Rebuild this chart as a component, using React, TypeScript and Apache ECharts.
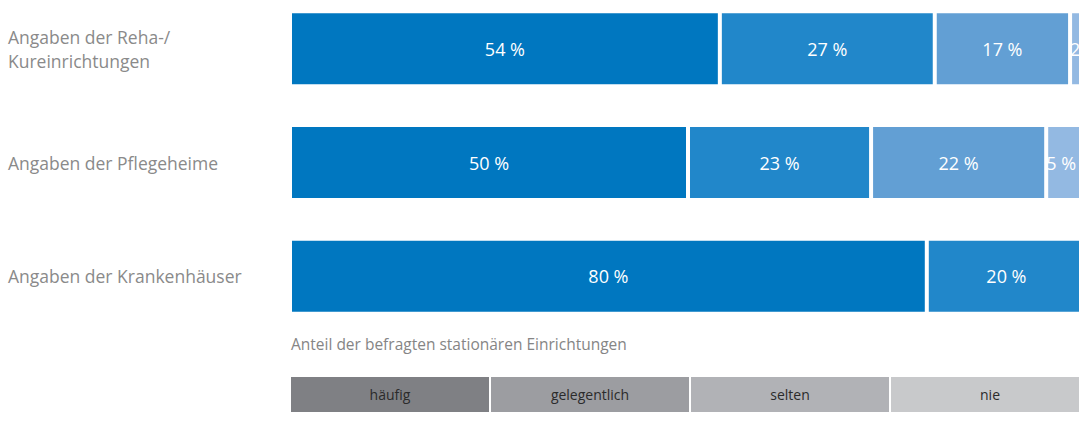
import React, { useEffect, useRef } from "react";
import * as echarts from "echarts";

const categories = [
  "Angaben der Reha-/\nKureinrichtungen",
  "Angaben der Pflegeheime",
  "Angaben der Krankenhäuser",
];
const seriesNames = ["häufig", "gelegentlich", "selten", "nie"];
const haeufig = [54, 50, 80];
const gelegentlich = [27, 23, 20];
const selten = [17, 22, 0];
const nie = [2, 5, 0];
const barColors = ["#0077c0", "#2187ca", "#629fd4", "#93b9e2"];
const legendColors = ["#7f8084", "#9c9da1", "#b1b2b6", "#c8c9cb"];
const axisTitle = "Anteil der befragten stationären Einrichtungen";

const FONT = "'Open Sans', 'Noto Sans', sans-serif";
const OFF = 10; // container is shifted up by this amount

export default function App() {
  const ref = useRef<HTMLDivElement>(null);
  useEffect(() => {
    if (!ref.current) return;
    const chart = echarts.init(ref.current, undefined, { renderer: "svg" });
    const data = [haeufig, gelegentlich, selten, nie];
    const series = data.map((vals, i) => ({
      name: seriesNames[i],
      type: "bar",
      stack: "total",
      barWidth: 75,
      data: vals,
      itemStyle: { color: barColors[i], borderColor: "#ffffff", borderWidth: 2 },
      label: {
        show: true,
        position: i === 3 ? "insideLeft" : "inside",
        distance: 0,
        color: "#ffffff",
        fontSize: 18,
        fontFamily: FONT,
        formatter: (p: any) => (p.value > 0 ? `${p.value} %` : ""),
      },
    }));
    const legendW = 198;
    const graphics: any[] = [];
    seriesNames.forEach((n, i) => {
      const x = 291 + i * 200;
      graphics.push({
        type: "rect",
        shape: { x, y: 377 + OFF, width: legendW, height: 35 },
        style: { fill: legendColors[i] },
      });
      graphics.push({
        type: "text",
        x: x + legendW / 2,
        y: 394.5 + OFF,
        style: {
          text: n,
          fill: "#2b2b2b",
          fontSize: 14,
          fontFamily: FONT,
          align: "center",
          verticalAlign: "middle",
        },
      });
    });
    graphics.push({
      type: "text",
      x: 291,
      y: 344 + OFF,
      style: {
        text: axisTitle,
        fill: "#858585",
        fontSize: 15.5,
        fontFamily: FONT,
        align: "left",
        verticalAlign: "middle",
      },
    });
    chart.setOption({
      animation: false,
      grid: { left: 290, top: OFF - 8, width: 796, height: 341, containLabel: false },
      xAxis: {
        type: "value",
        min: 0,
        max: 100,
        show: false,
      },
      yAxis: {
        type: "category",
        inverse: true,
        data: categories,
        axisLine: { show: false },
        axisTick: { show: false },
        axisLabel: {
          align: "left",
          margin: 282,
          color: "#8a8a8a",
          fontSize: 17.5,
          lineHeight: 24,
          fontFamily: FONT,
        },
      },
      series,
      graphic: graphics,
    });
    return () => chart.dispose();
  }, []);
  return (
    <div
      ref={ref}
      style={{ position: "fixed", left: 0, top: -OFF, width: 1100, height: 440, background: "#fff" }}
    />
  );
}
